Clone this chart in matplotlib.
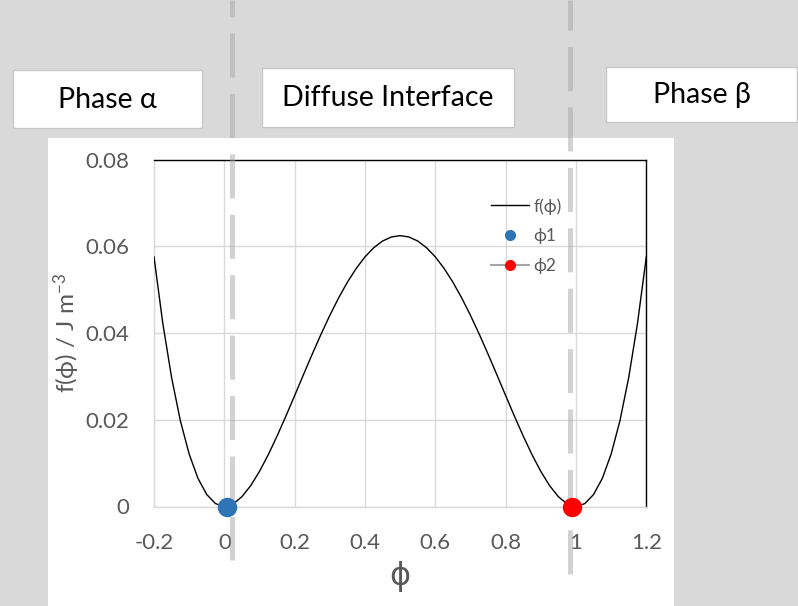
import matplotlib
matplotlib.use("Agg")
import matplotlib.pyplot as plt
from matplotlib.lines import Line2D
from matplotlib.patches import Rectangle

plt.rcParams['font.family'] = ['Lato', 'DejaVu Sans']
plt.rcParams['lines.scale_dashes'] = False
plt.rcParams['mathtext.default'] = 'regular'

# ---- data ----
phi = [-0.200, -0.175, -0.150, -0.125, -0.100, -0.075, -0.050, -0.025,
       0.000, 0.025, 0.050, 0.075, 0.100, 0.125, 0.150, 0.175,
       0.200, 0.225, 0.250, 0.275, 0.300, 0.325, 0.350, 0.375,
       0.400, 0.425, 0.450, 0.475, 0.500, 0.525, 0.550, 0.575,
       0.600, 0.625, 0.650, 0.675, 0.700, 0.725, 0.750, 0.775,
       0.800, 0.825, 0.850, 0.875, 0.900, 0.925, 0.950, 0.975,
       1.000, 1.025, 1.050, 1.075, 1.100, 1.125, 1.150, 1.175, 1.200]
f_phi = [0.05760, 0.04228, 0.02976, 0.01978, 0.01210, 0.00650, 0.00276, 0.00066,
         0.00000, 0.00059, 0.00226, 0.00481, 0.00810, 0.01196, 0.01626, 0.02084,
         0.02560, 0.03041, 0.03516, 0.03975, 0.04410, 0.04813, 0.05176, 0.05493,
         0.05760, 0.05972, 0.06126, 0.06219, 0.06250, 0.06219, 0.06126, 0.05972,
         0.05760, 0.05493, 0.05176, 0.04813, 0.04410, 0.03975, 0.03516, 0.03041,
         0.02560, 0.02084, 0.01626, 0.01196, 0.00810, 0.00481, 0.00226, 0.00059,
         0.00000, 0.00066, 0.00276, 0.00650, 0.01210, 0.01978, 0.02976, 0.04228, 0.05760]
phi1_x = [0.008]
phi1_y = [0.0]
phi2_x = [0.988]
phi2_y = [0.0]
x_ticks = [-0.2, 0.0, 0.2, 0.4, 0.6, 0.8, 1.0, 1.2]
x_tick_labels = ['-0.2', '0', '0.2', '0.4', '0.6', '0.8', '1', '1.2']
y_ticks = [0.0, 0.02, 0.04, 0.06, 0.08]
y_tick_labels = ['0', '0.02', '0.04', '0.06', '0.08']
box_labels = ['Phase α', 'Diffuse Interface', 'Phase β']

W, H = 798, 606
fig = plt.figure(figsize=(W / 100, H / 100), dpi=100)
fig.patch.set_facecolor('#d9d9d9')

def fx(px):
    return px / W

def fy(py):
    return (H - py) / H

# white chart panel
fig.add_artist(Rectangle((fx(48), 0), fx(674) - fx(48), fy(138), transform=fig.transFigure,
                         facecolor='white', edgecolor='none', zorder=-1))

# text boxes
boxes = [(13, 70, 202, 128), (262, 68, 514, 127), (606, 67, 797, 122)]
for (x0, y0, x1, y1), lab in zip(boxes, box_labels):
    fig.add_artist(Rectangle((fx(x0), fy(y1)), fx(x1) - fx(x0), fy(y0) - fy(y1),
                             transform=fig.transFigure, facecolor='white',
                             edgecolor='#c8c8c8', lw=1.0, zorder=1))
    fig.text(fx((x0 + x1) / 2), fy((y0 + y1) / 2 + 1), lab, ha='center', va='center',
             fontsize=20.5, color='black', zorder=2)

ax = fig.add_axes([fx(154), fy(506.5), fx(646.3) - fx(154), fy(159.8) - fy(506.5)])
ax.set_facecolor('white')
ax.set_xlim(-0.2, 1.2)
ax.set_ylim(0, 0.08)
ax.set_xticks(x_ticks)
ax.set_xticklabels(x_tick_labels)
ax.set_yticks(y_ticks)
ax.set_yticklabels(y_tick_labels)
ax.tick_params(length=0, labelsize=16, labelcolor='#595959')
ax.tick_params(axis='x', pad=19)
ax.tick_params(axis='y', pad=18)
ax.grid(True, color='#d9d9d9', lw=1.0)
ax.set_axisbelow(True)
for s in ['left', 'bottom']:
    ax.spines[s].set_color('#d9d9d9')
    ax.spines[s].set_linewidth(1.0)
for s in ['top', 'right']:
    ax.spines[s].set_color('black')
    ax.spines[s].set_linewidth(1.0)

ax.plot(phi, f_phi, color='black', lw=1.0, zorder=3)

# dashed vertical guides (figure coords)
for xpx, ybot, off in [(232, 560, 19.7), (570, 575, 10.0)]:
    ln = Line2D([fx(xpx), fx(xpx)], [1.0, fy(ybot)], transform=fig.transFigure,
                color='#a6a6a6', alpha=0.5, lw=3.6, solid_capstyle='butt',
                dash_capstyle='butt', clip_on=False, zorder=4)
    ln.set_linestyle((off, (31.7, 11.8)))
    ax.add_artist(ln)

ax.plot(phi1_x, phi1_y, 'o', color='#2e75b6', ms=13, clip_on=False, zorder=5)
ax.plot(phi2_x, phi2_y, 'o', color='#ff0000', ms=13, clip_on=False, zorder=5)

ax.set_ylabel('f(ϕ) / J m$^{-3}$', fontsize=17.5, color='#595959', labelpad=2)
ax.set_xlabel('ϕ', fontsize=23, color='#595959', family='DejaVu Sans', labelpad=6)

handles = [
    Line2D([], [], color='black', lw=1.0),
    Line2D([], [], ls='none', marker='o', color='#2e75b6', ms=7),
    Line2D([], [], color='#a5a5a5', lw=1.5, marker='o', mfc='#ff0000', mec='#ff0000', ms=7),
]
leg = ax.legend(handles, ['f(ϕ)', 'ϕ1', 'ϕ2'], loc='upper left',
                bbox_to_anchor=(fx(491), fy(198)), bbox_transform=fig.transFigure,
                frameon=False, fontsize=12.5, handlelength=2.2, handletextpad=0.25,
                labelspacing=0.78, borderpad=0, borderaxespad=0)
for t in leg.get_texts():
    t.set_color('#595959')
leg.set_zorder(6)

fig.savefig('out.png', dpi=100, facecolor=fig.get_facecolor())
